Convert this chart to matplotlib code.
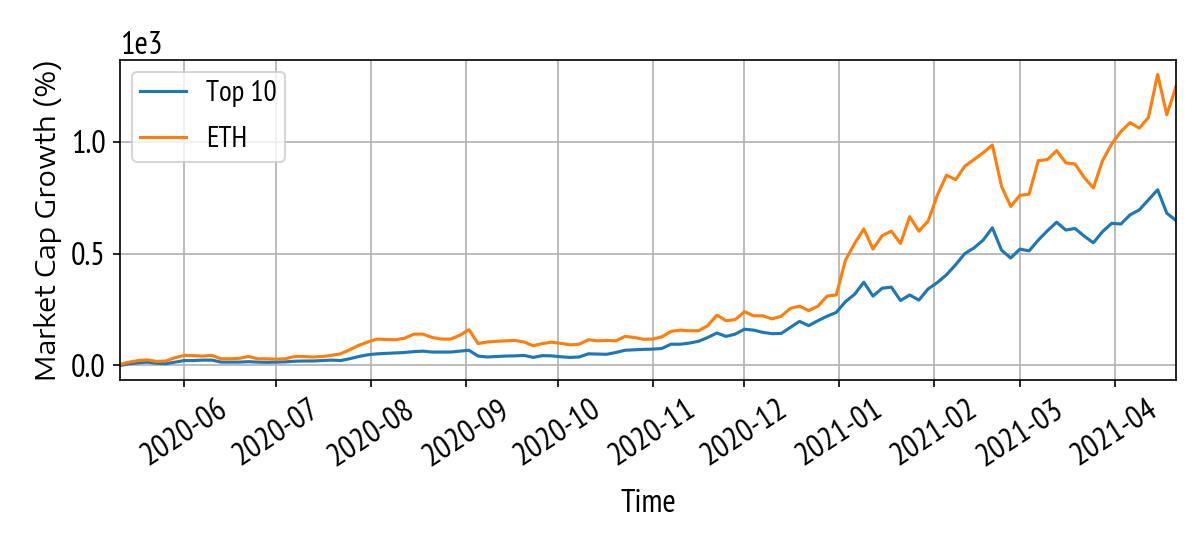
import pandas as pd
import matplotlib
matplotlib.use("Agg")
import matplotlib.pyplot as plt
from matplotlib.ticker import MultipleLocator

# samples every 3 days, growth in percent
start_date = "2020-05-11"
step = "3D"

top10 = [
    0, 8, 12, 15, 10, 8, 15, 22, 22, 24, 24, 15,
    15, 15, 17, 15, 14, 15, 16, 19, 20, 20, 22, 24,
    22, 30, 40, 48, 52, 54, 56, 58, 62, 64, 60, 60,
    60, 64, 68, 42, 38, 40, 42, 43, 45, 36, 44, 43,
    39, 36, 38, 52, 51, 50, 58, 68, 70, 72, 73, 76,
    95, 95, 100, 108, 125, 145, 130, 140, 162, 158, 148, 142,
    143, 170, 197, 178, 200, 220, 237, 285, 318, 372, 310, 345,
    350, 290, 315, 292, 342, 370, 405, 450, 500, 525, 560, 615,
    515, 480, 520, 512, 560, 602, 640, 605, 612, 578, 548, 598,
    635, 632, 673, 695, 740, 785, 680, 648,
]

eth = [
    5, 15, 22, 25, 18, 20, 35, 45, 44, 42, 45, 30,
    30, 32, 40, 30, 30, 28, 30, 40, 40, 38, 40, 45,
    52, 70, 90, 105, 118, 116, 115, 122, 140, 140, 125, 118,
    118, 135, 160, 98, 105, 108, 110, 112, 105, 88, 98, 104,
    99, 92, 95, 115, 110, 112, 110, 130, 125, 117, 118, 128,
    152, 158, 155, 155, 178, 225, 200, 205, 240, 222, 222, 208,
    220, 255, 265, 245, 265, 310, 315, 470, 545, 610, 520, 580,
    600, 545, 665, 600, 645, 760, 850, 830, 890, 920, 950, 985,
    800, 710, 760, 765, 915, 920, 960, 905, 900, 840, 793, 915,
    990, 1045, 1085, 1060, 1108, 1300, 1120, 1245,
]

dates = pd.date_range(start_date, periods=len(top10), freq=step)
df = pd.DataFrame({"Top 10": top10, "ETH": eth}, index=dates)

plt.rcParams["font.family"] = ["PT Sans Narrow", "DejaVu Sans"]
plt.rcParams["font.size"] = 15.5

fig, ax = plt.subplots(figsize=(8, 3.667), dpi=150)
ax.plot(df.index, df["Top 10"], label="Top 10")
ax.plot(df.index, df["ETH"], label="ETH")
ax.margins(x=0)
ax.grid(True)
ax.yaxis.set_major_locator(MultipleLocator(500))
ax.ticklabel_format(axis="y", style="sci", scilimits=(0, 0))
ax.set_xlabel("Time", labelpad=8)
ax.set_ylabel("Market Cap Growth (%)", family=["Encode Sans Expanded", "DejaVu Sans"], fontsize=13)
ax.legend(loc="upper left", fontsize=14, handlelength=1.55, handletextpad=0.7,
          labelspacing=0.65, borderpad=0.3, borderaxespad=0.4)
plt.xticks(rotation=33)

fig.subplots_adjust(left=0.1, right=0.98, top=0.891, bottom=0.309)
fig.savefig("out.png")
